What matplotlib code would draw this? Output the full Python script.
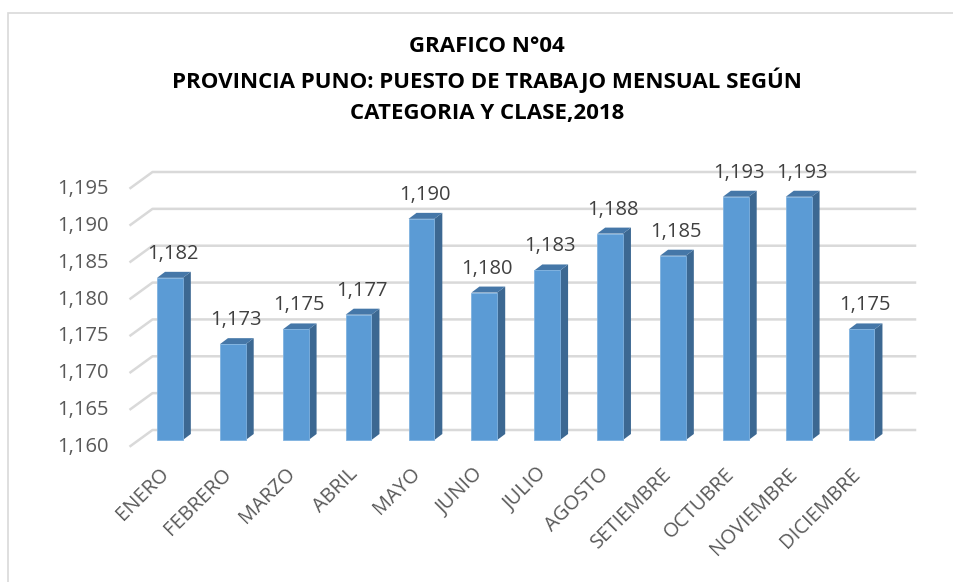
import matplotlib.pyplot as plt
from matplotlib.patches import Polygon, Rectangle
from matplotlib.lines import Line2D

# datos del grafico
meses = ['ENERO', 'FEBRERO', 'MARZO', 'ABRIL', 'MAYO', 'JUNIO', 'JULIO',
         'AGOSTO', 'SETIEMBRE', 'OCTUBRE', 'NOVIEMBRE', 'DICIEMBRE']
puestos = [1182, 1173, 1175, 1177, 1190, 1180, 1183, 1188, 1185, 1193, 1193, 1175]
y_ticks = [1160, 1165, 1170, 1175, 1180, 1185, 1190, 1195]
titulo = ['GRAFICO N°04',
          'PROVINCIA PUNO: PUESTO DE TRABAJO MENSUAL SEGÚN',
          'CATEGORIA Y CLASE,2018']

W, H = 954, 582
plt.rcParams['font.family'] = ['Open Sans', 'DejaVu Sans']

fig = plt.figure(figsize=(W / 100, H / 100), dpi=100)
# plano de las barras (en pixeles de la imagen)
left_px, right_px = 138.5, 893
top_px, base_px = 182, 440
ax = fig.add_axes([left_px / W, (H - base_px) / H,
                   (right_px - left_px) / W, (base_px - top_px) / H])
ax.set_xlim(-0.5, len(meses) - 0.5)
ax.set_ylim(1160, 1195)
ax.axis('off')

# marco del grafico
fig.patches.append(Rectangle((8 / W, -0.1), 1.2, (H - 13) / H + 0.1,
                             transform=fig.transFigure, fill=False,
                             edgecolor='#d9d9d9', linewidth=1.2))

fig.canvas.draw()
tr = ax.transData

grid_col = '#d9d9d9'
front = (-8, -6)   # desplazamiento del plano frontal (display px)
back = (14, 10)    # pared de fondo
x0 = -0.5
x1 = len(meses) - 0.5
for v in y_ticks:
    px0, py0 = tr.transform((x0, v))
    px1, py1 = tr.transform((x1, v))
    fx, fy = px0 + front[0], py0 + front[1]
    bx, by = px0 + back[0], py0 + back[1]
    fig.add_artist(Line2D([fx, bx, px1 + 22], [fy, by, by], transform=None,
                          color=grid_col, linewidth=1.8, zorder=1))
    fig.text((fx - 22) / W, (fy - 1) / H, f'{v:,}', ha='right', va='center',
             fontsize=14.5, color='#595959')

# barras con efecto 3D
bw = 0.41
dx, dy = 8, 6
for i, v in enumerate(puestos):
    xl, yb = tr.transform((i - bw / 2, 1160))
    xr, yt = tr.transform((i + bw / 2, v))
    fig.add_artist(Polygon([(xr, yb), (xr + dx, yb + dy), (xr + dx, yt + dy), (xr, yt)],
                           closed=True, transform=None, facecolor='#3c6892',
                           edgecolor='none', zorder=2))
    fig.add_artist(Polygon([(xl, yt), (xl + dx, yt + dy), (xr + dx, yt + dy), (xr, yt)],
                           closed=True, transform=None, facecolor='#4577a8',
                           edgecolor='none', zorder=2))
    fig.add_artist(Rectangle((xl, yb), xr - xl, yt - yb, transform=None,
                             facecolor='#5b9bd5', edgecolor='#7fb2e0',
                             linewidth=0.6, zorder=3))
    cx = (xl + xr) / 2
    fig.text((cx + 3) / W, (yt + 24) / H, f'{v:,}', ha='center', va='center',
             fontsize=14.5, color='#404040')
    fig.text((cx - 11) / W, (yb - 24) / H, meses[i], ha='right', va='top',
             rotation=45, rotation_mode='anchor', fontsize=14.5, color='#595959')

for linea, ypx in zip(titulo, [46, 80, 113]):
    fig.text(487 / W, (H - ypx) / H, linea, ha='center', va='center', fontsize=16,
             fontweight='bold', color='#000000')

fig.savefig('out.png', dpi=100)
